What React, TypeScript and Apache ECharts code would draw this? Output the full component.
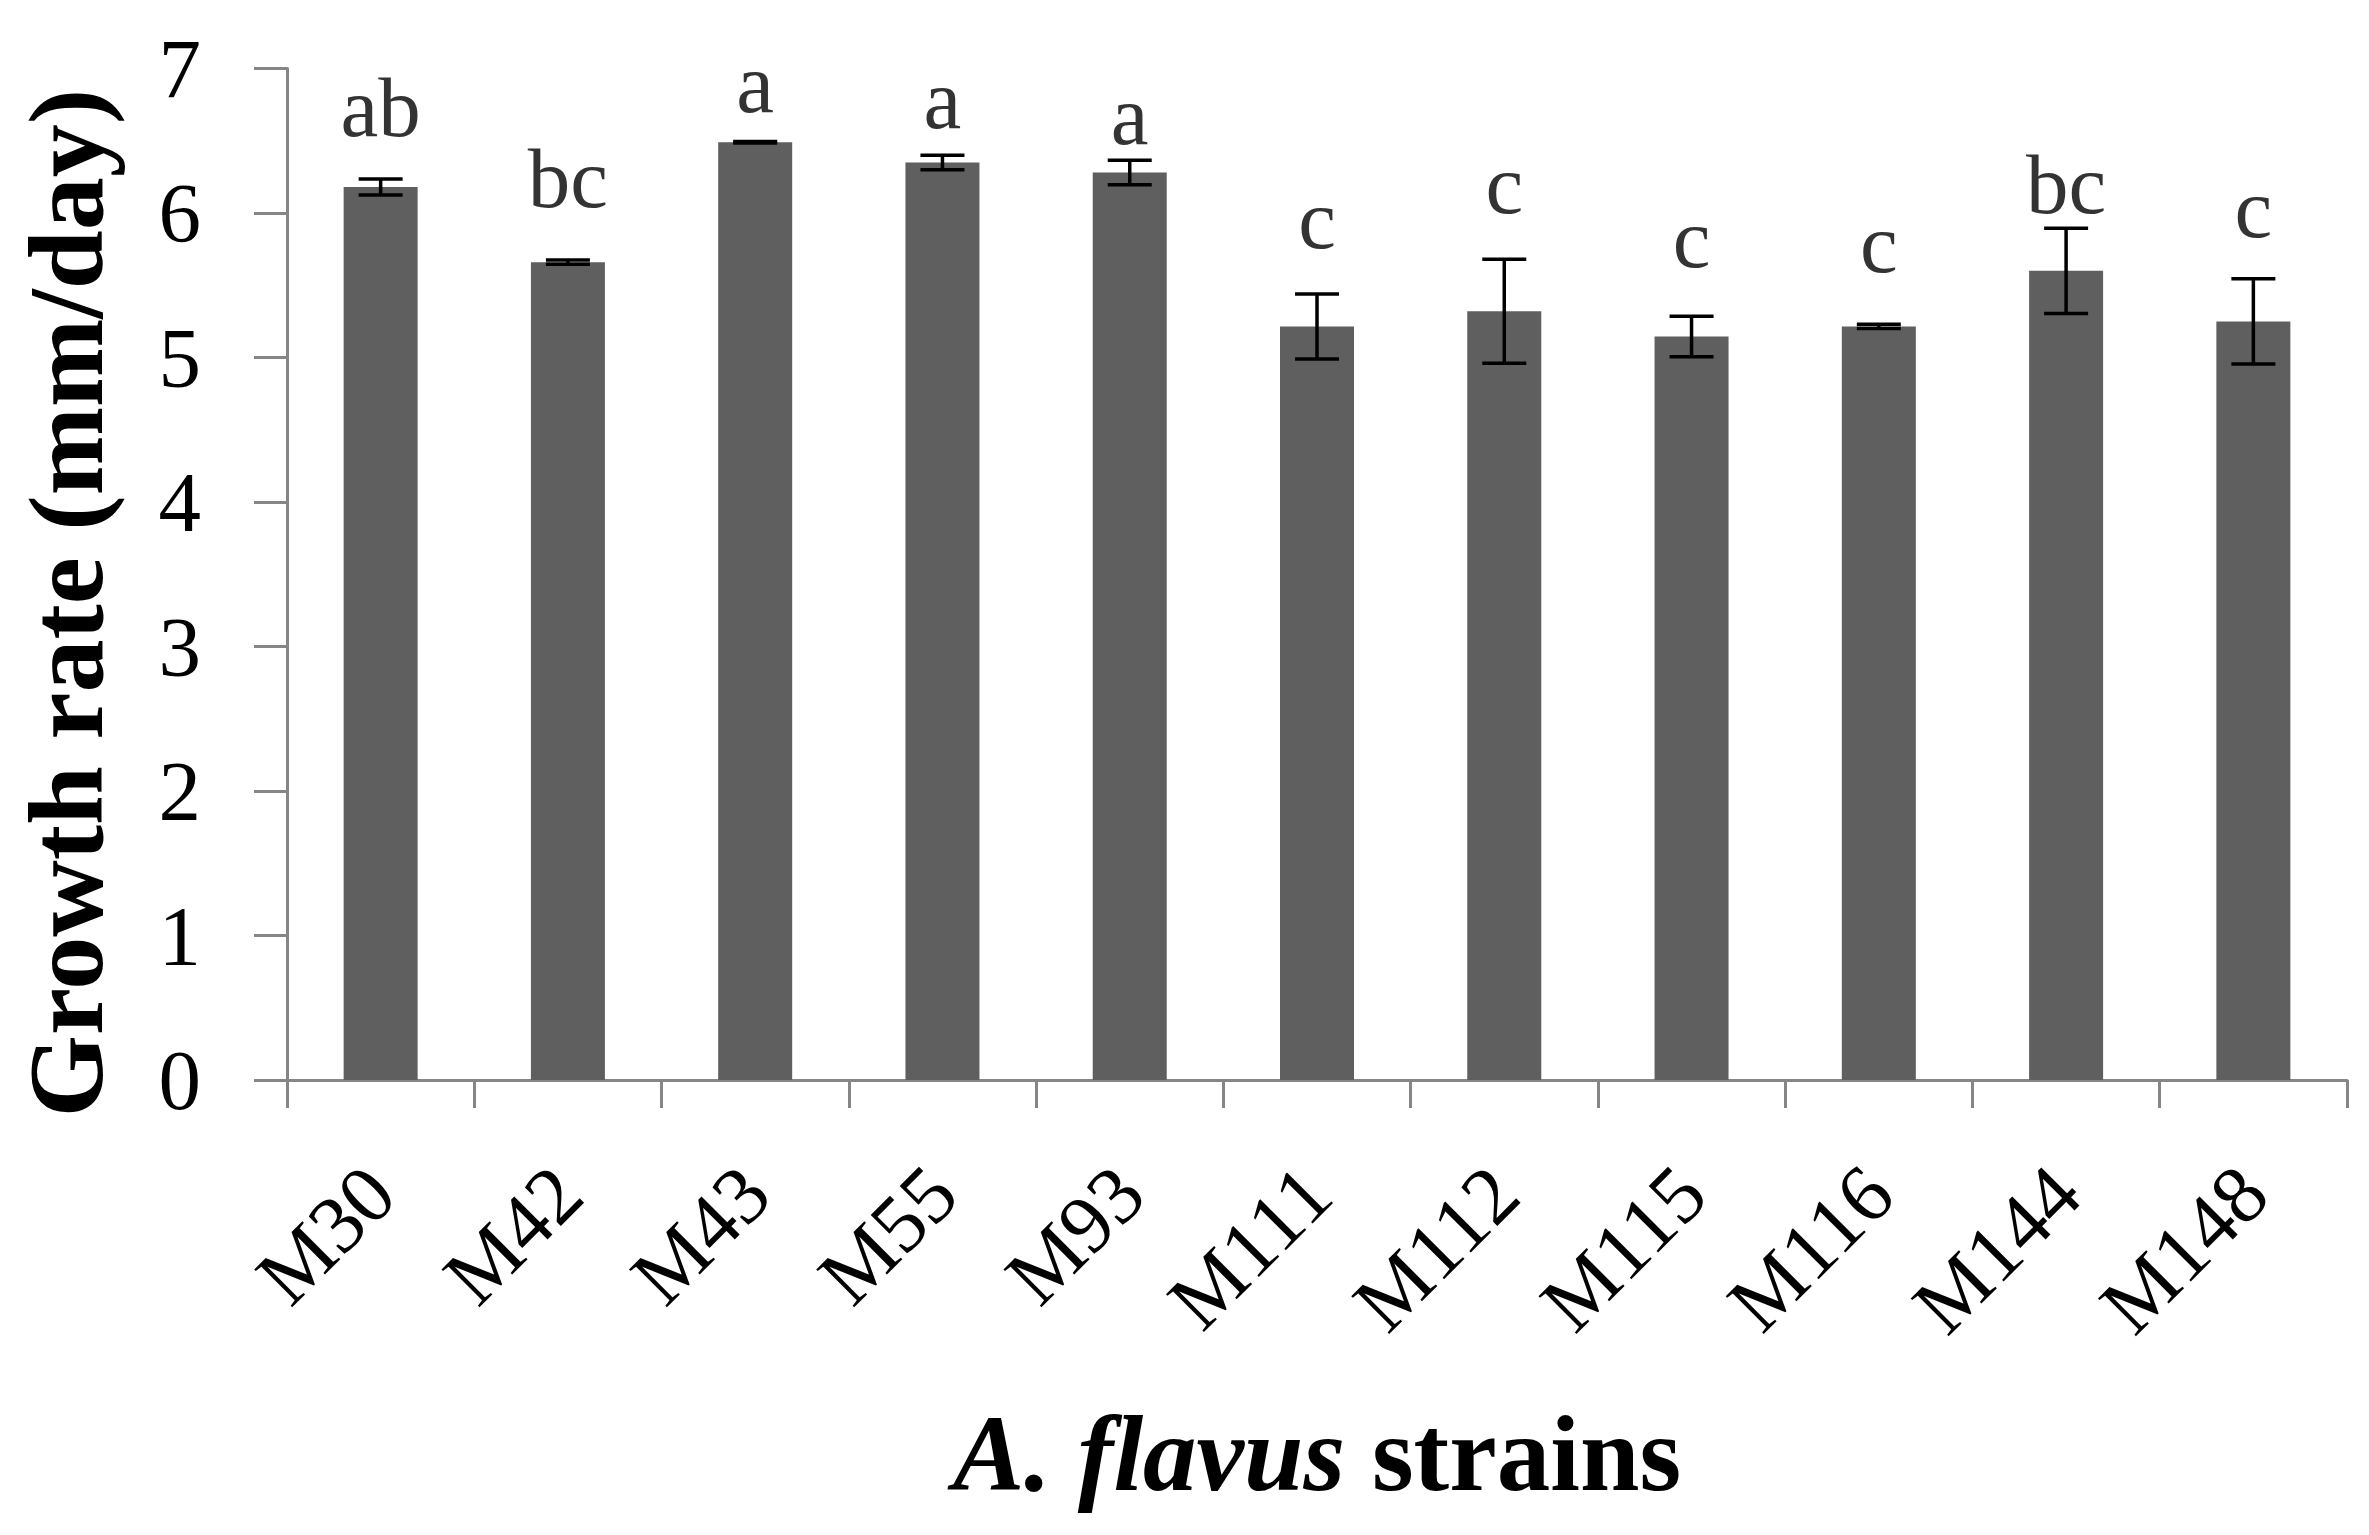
import React, { useEffect, useRef } from "react";
import * as echarts from "echarts";

const categories = ["M30", "M42", "M43", "M55", "M93", "M111", "M112", "M115", "M116", "M144", "M148"];
const growthRate = [6.18, 5.66, 6.49, 6.35, 6.28, 5.215, 5.32, 5.145, 5.215, 5.6, 5.25];
const stdError = [0.055, 0.015, 0.005, 0.05, 0.085, 0.225, 0.36, 0.14, 0.015, 0.295, 0.295];
const letters = ["ab", "bc", "a", "a", "a", "c", "c", "c", "c", "bc", "c"];
const letterBaseline = [6.54, 6.055, 6.71, 6.6, 6.49, 5.77, 6.01, 5.635, 5.6, 6.01, 5.845];

const FONT = '"Liberation Serif", "Times New Roman", serif';

export default function App() {
  const ref = useRef<HTMLDivElement>(null);

  useEffect(() => {
    if (!ref.current) return;
    const chart = echarts.init(ref.current, null, { renderer: "svg" });
    chart.setOption({
      animation: false,
      backgroundColor: "#ffffff",
      grid: { left: 287, right: 22, top: 68.5, bottom: 455, containLabel: false },
      xAxis: {
        type: "category",
        data: categories,
        boundaryGap: true,
        axisLine: { show: true, lineStyle: { color: "#868686", width: 3 } },
        axisTick: { show: true, length: 28, alignWithLabel: false, lineStyle: { color: "#868686", width: 3 } },
        axisLabel: {
          interval: 0,
          rotate: 45,
          margin: 100,
          color: "#000",
          fontFamily: FONT,
          fontSize: 82,
        },
        name: "{i|A. flavus}{b| strains}",
        nameLocation: "middle",
        nameGap: 320,
        nameTextStyle: {
          color: "#000",
          rich: {
            i: { fontFamily: FONT, fontStyle: "italic", fontWeight: "bold", fontSize: 107, color: "#000" },
            b: { fontFamily: FONT, fontWeight: "bold", fontSize: 107, color: "#000" },
          },
        },
      },
      yAxis: {
        type: "value",
        min: 0,
        max: 7,
        interval: 1,
        axisLine: { show: true, lineStyle: { color: "#868686", width: 3 } },
        axisTick: { show: true, length: 33, lineStyle: { color: "#868686", width: 3 } },
        splitLine: { show: false },
        axisLabel: { margin: 86, color: "#000", fontFamily: FONT, fontSize: 85 },
        name: "Growth rate (mm/day)",
        nameLocation: "middle",
        nameRotate: 90,
        nameGap: 168,
        nameTextStyle: {
          color: "#000",
          fontFamily: FONT,
          fontWeight: "bold",
          fontSize: 106,
          padding: [0, 58, 0, 0],
        },
      },
      series: [
        {
          type: "bar",
          data: growthRate,
          barWidth: 74,
          itemStyle: { color: "#5f5f5f" },
          z: 2,
        },
        {
          type: "custom",
          z: 3,
          data: categories.map((c, i) => [i, growthRate[i], stdError[i]]),
          renderItem: (params: any, api: any) => {
            const x = api.value(0);
            const m = api.value(1);
            const e = api.value(2);
            const top = api.coord([x, m + e]);
            const bot = api.coord([x, m - e]);
            const half = 22;
            const style = { stroke: "#000", lineWidth: 3.5 };
            return {
              type: "group",
              children: [
                { type: "line", shape: { x1: top[0], y1: top[1], x2: bot[0], y2: bot[1] }, style },
                { type: "line", shape: { x1: top[0] - half, y1: top[1], x2: top[0] + half, y2: top[1] }, style },
                { type: "line", shape: { x1: bot[0] - half, y1: bot[1], x2: bot[0] + half, y2: bot[1] }, style },
              ],
            };
          },
        },
        {
          type: "scatter",
          z: 4,
          symbolSize: 0,
          data: categories.map((c, i) => [i, letterBaseline[i], letters[i]]),
          label: {
            show: true,
            position: "top",
            distance: 0,
            offset: [0, 15],
            formatter: (p: any) => p.value[2],
            color: "#000",
            fontFamily: FONT,
            fontSize: 85,
          },
        },
      ],
    });
    return () => chart.dispose();
  }, []);

  return (
    <div
      ref={ref}
      style={{ position: "absolute", left: 0, top: 0, width: 2369, height: 1535, background: "#fff" }}
    />
  );
}
